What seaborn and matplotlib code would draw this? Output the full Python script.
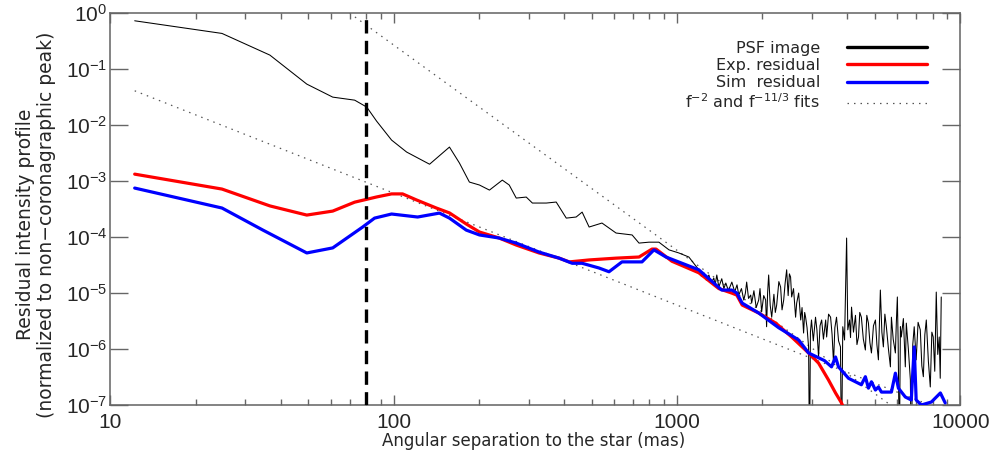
import matplotlib
matplotlib.use('Agg')
import matplotlib.pyplot as plt
from matplotlib.lines import Line2D
from matplotlib import ticker
import seaborn as sns

# ----------- DONNÉES -------------------------------

# PSF image (non coronographique), séparation en mas
psf_sep = [12.2, 24.8, 36.6, 49.4, 61.0, 72.9, 80.4, 87.1, 98.4, 111.2,
           134, 148.8, 157.5, 170.8, 185.2, 201, 218, 242, 256, 271,
           294, 309, 346, 375, 407, 441, 463, 490, 544, 610,
           695, 735, 797, 864, 938, 1016, 1102,
           1195, 1220, 1245, 1270, 1297, 1320, 1350, 1365, 1383, 1395,
           1406, 1440, 1465, 1488, 1520, 1563, 1600, 1630, 1653, 1690,
           1722, 1745, 1763, 1790, 1822, 1836, 1870, 1905, 1944, 1965,
           1991, 2025, 2057, 2073, 2090, 2108, 2135, 2161, 2200, 2225,
           2250, 2290, 2323, 2350, 2382, 2410, 2440, 2470, 2495, 2519,
           2541, 2580, 2624, 2647, 2690, 2735, 2765, 2800, 2825, 2846,
           2880, 2916, 2938, 2960, 2986, 3030, 3085, 3120, 3162, 3200,
           3243, 3290, 3350, 3377, 3430, 3487, 3530, 3571, 3610, 3659,
           3720, 3779, 3810, 3850, 3906, 3972, 4010, 4067, 4100, 4134,
           4200, 4269, 4320, 4375, 4420, 4478, 4550, 4626, 4680, 4742,
           4800, 4860, 4940, 5020, 5080, 5143, 5190, 5225, 5290, 5355,
           5420, 5487, 5580, 5670, 5716, 5800, 5904, 5950, 5999, 6040,
           6096, 6150, 6195, 6300, 6400, 6452, 6560, 6668, 6718, 6800,
           6880, 6990, 7100, 7228, 7320, 7410, 7500, 7590, 7720, 7840,
           7940, 8030, 8130, 8230, 8330, 8430, 8500, 8570]
psf_val = [0.73, 0.434, 0.178, 0.054, 0.0316, 0.0279, 0.021, 0.0118, 0.0054, 0.0033,
           2.0e-3, 3.16e-3, 4.05e-3, 2.1e-3, 9.6e-4, 8.5e-4, 6.9e-4, 1.04e-3, 8.5e-4, 4.97e-4,
           5.18e-4, 4.05e-4, 4.05e-4, 4.22e-4, 2.18e-4, 2.28e-4, 2.79e-4, 1.51e-4, 1.78e-4, 1.18e-4,
           1.09e-4, 7.8e-5, 8.1e-5, 8.1e-5, 5.9e-5, 5.2e-5, 4.4e-5,
           2.6e-5, 2.0e-5, 2.3e-5, 1.7e-5, 2.1e-5, 1.5e-5, 1.85e-5, 1.4e-5, 2.1e-5, 1.6e-5,
           1.28e-5, 1.8e-5, 1.2e-5, 1.51e-5, 1.1e-5, 1.57e-5, 1.05e-5, 1.4e-5, 9.2e-6, 1.2e-5,
           7.5e-6, 1.0e-5, 1.57e-5, 8.0e-6, 9.2e-6, 6.6e-6, 1.1e-5, 5.5e-6, 7.5e-6, 1.2e-5,
           4.6e-6, 9.0e-6, 7.5e-6, 2.5e-6, 1.0e-5, 2.1e-5, 6.0e-6, 3.7e-6, 9.5e-6, 4.5e-6,
           6.1e-6, 1.6e-5, 1.28e-5, 5.0e-6, 7.5e-6, 1.5e-5, 2.6e-5, 9.0e-6, 2.2e-5, 1.93e-5,
           8.5e-6, 1.2e-5, 3.7e-6, 6.6e-6, 1.0e-5, 3.3e-6, 5.5e-6, 1.93e-6, 4.5e-6, 3.7e-6,
           2.4e-6, 1.09e-6, 1e-8, 2.0e-6, 3.3e-6, 1.4e-6, 3.7e-6, 2.2e-6, 7.2e-7, 2.6e-6,
           3.3e-6, 1.5e-6, 3.3e-6, 1.64e-6, 4.2e-6, 3.7e-6, 1.8e-6, 5.6e-7, 2.4e-6, 3.7e-6,
           1.4e-6, 1.09e-6, 1e-8, 2.5e-6, 1.45e-6, 9.6e-5, 2.2e-6, 3.3e-6, 1.6e-6, 5.6e-6,
           2.0e-6, 4.0e-6, 1.2e-6, 1.64e-6, 4.5e-6, 3.7e-6, 1.5e-6, 9.6e-7, 4.0e-6, 2.9e-6,
           1.3e-6, 8.5e-7, 2.6e-6, 3.3e-6, 1.2e-6, 6.4e-7, 3.5e-6, 1.13e-5, 2.0e-6, 1.09e-6,
           4.2e-6, 2.5e-6, 1.0e-6, 4.8e-7, 3.7e-6, 1.5e-6, 8.5e-7, 3.0e-6, 8.5e-6, 1.2e-6,
           1e-8, 2.5e-6, 1.64e-6, 3.5e-6, 4.8e-7, 2.9e-6, 1.0e-6, 2.8e-7, 1e-8, 1.2e-6,
           2.5e-6, 6.4e-7, 3.0e-6, 2.2e-6, 5.0e-7, 3.2e-7, 1.8e-6, 3.3e-6, 6.0e-7, 2.1e-7,
           2.0e-6, 1.64e-6, 4.0e-7, 1.04e-5, 8.0e-7, 1.64e-6, 3.0e-7, 8.5e-6]

# résidu expérimental
exp_sep = [12.2, 24.8, 36.6, 49.4, 61.0, 72.9, 87.1, 98.4, 107.6, 120.5,
           141.6, 157.5, 180.6, 201, 236, 271, 326, 384, 417, 490,
           610, 735, 817, 844, 960, 1195, 1406, 1560, 1627, 1700,
           1944, 2233, 2541, 2916, 3162, 3428, 3630, 3810, 3950]
exp_val = [1.33e-3, 7.2e-4, 3.6e-4, 2.47e-4, 2.91e-4, 4.2e-4, 5.2e-4, 5.9e-4, 5.9e-4, 4.6e-4,
           3.3e-4, 2.7e-4, 1.71e-4, 1.23e-4, 9.6e-5, 7.2e-5, 5.2e-5, 4.2e-5, 3.6e-5, 3.9e-5,
           4.2e-5, 4.4e-5, 6.1e-5, 6.1e-5, 3.7e-5, 2.3e-5, 1.2e-5, 1.0e-5, 9.2e-6, 6.1e-6,
           4.4e-6, 2.9e-6, 1.64e-6, 8.5e-7, 5.6e-7, 2.8e-7, 1.64e-7, 1.09e-7, 7e-8]

# résidu simulé
sim_sep = [12.2, 24.8, 34.6, 49.4, 61.0, 77.8, 85.7, 98.4, 121.6, 145.2,
           157.5, 180.6, 201, 236, 271, 326, 384, 427, 463, 531,
           576, 640, 753, 830, 915, 1195, 1440, 1563, 1627, 1700,
           1944, 2287, 2690, 2916, 3318, 3514, 3630, 3718, 4033, 4478,
           4626, 4742, 4860, 5020, 5143, 5272, 5716, 5904, 6050, 6400,
           6718, 6880, 6990, 7290, 7910, 8510, 8850]
sim_val = [7.5e-4, 3.3e-4, 1.33e-4, 5.2e-5, 6.4e-5, 1.51e-4, 2.18e-4, 2.58e-4, 2.28e-4, 2.68e-4,
           2.18e-4, 1.33e-4, 1.09e-4, 9.6e-5, 7.8e-5, 5.4e-5, 4.2e-5, 3.4e-5, 3.4e-5, 2.8e-5,
           2.4e-5, 3.6e-5, 3.6e-5, 5.9e-5, 4.4e-5, 2.6e-5, 1.13e-5, 1.13e-5, 1.0e-5, 6.6e-6,
           4.4e-6, 2.4e-6, 1.45e-6, 8.5e-7, 6.2e-7, 4.8e-7, 7.2e-7, 4.8e-7, 3.0e-7, 2.3e-7,
           3.2e-7, 2.0e-7, 2.6e-7, 1.85e-7, 2.1e-7, 1.7e-7, 1.7e-7, 3.7e-7, 2.0e-7, 1.39e-7,
           1.23e-7, 1.09e-6, 1.23e-7, 1.0e-7, 1.13e-7, 1.64e-7, 1.09e-7]

# ajustements f^-2 et f^-11/3 (droites en log-log, extrémités)
fit2_sep = [12.2, 10000]
fit2_val = [0.041, 6.1e-8]
fit113_sep = [70, 10000]
fit113_val = [1.0, 1.25e-8]

# séparation du trait vertical
iwa_sep = 80

x_ticks = [10, 100, 1000, 10000]
x_tick_labels = ['10', '100', '1000', '10000']
y_ticks = [1e-7, 1e-6, 1e-5, 1e-4, 1e-3, 1e-2, 1e-1, 1e0]

legend_labels = ['PSF image', 'Exp. residual', 'Sim  residual',
                 'f$^{-2}$ and f$^{-11/3}$ fits']

# ----------- STYLE ------------

sns.set_style('ticks', {'xtick.direction': 'in', 'ytick.direction': 'in'})
plt.rcParams['font.family'] = ['Liberation Sans', 'DejaVu Sans']
plt.rcParams['axes.axisbelow'] = False
plt.rcParams['xtick.top'] = True
plt.rcParams['ytick.right'] = True
frame_col = '#6e6e6e'

fig, ax = plt.subplots(figsize=(9.93, 4.61), dpi=100)
fig.subplots_adjust(left=0.111, right=0.967, bottom=0.1215, top=0.9715)
ax.set_xscale('log')
ax.set_yscale('log')

# ----------- TRACÉS ------------

sns.lineplot(x=fit2_sep, y=fit2_val, ax=ax, color='#555555', linewidth=0.9,
             linestyle=(0, (1.2, 4)), estimator=None, sort=False, zorder=1)
sns.lineplot(x=fit113_sep, y=fit113_val, ax=ax, color='#555555', linewidth=0.9,
             linestyle=(0, (1.2, 4)), estimator=None, sort=False, zorder=1)
sns.lineplot(x=psf_sep, y=psf_val, ax=ax, color='black', linewidth=0.75,
             estimator=None, sort=False, zorder=2)
sns.lineplot(x=exp_sep, y=exp_val, ax=ax, color='#ff0000', linewidth=2.3,
             estimator=None, sort=False, zorder=3)
sns.lineplot(x=sim_sep, y=sim_val, ax=ax, color='#0000ff', linewidth=2.3,
             estimator=None, sort=False, zorder=4)
ax.axvline(iwa_sep, color='black', linewidth=2.4, linestyle=(0, (4, 2.2)), zorder=5)

# ----------- AXES ------------

ax.set_xlim(10, 10000)
ax.set_ylim(1e-7, 1)
ax.set_xticks(x_ticks, labels=x_tick_labels)
ax.xaxis.set_minor_locator(ticker.LogLocator(base=10, subs=range(2, 10)))
ax.set_yticks(y_ticks)
ax.yaxis.set_major_formatter(ticker.LogFormatterSciNotation())
ax.yaxis.set_minor_locator(ticker.NullLocator())

ax.tick_params(which='both', direction='in', top=True, right=True,
               bottom=True, left=True, labelsize=15)
ax.tick_params(which='both', color='#666666', width=1.0)
ax.tick_params(axis='x', which='major', length=7, pad=6)
ax.tick_params(axis='x', which='minor', length=4)
ax.tick_params(axis='y', which='major', length=13, pad=2)
for sp in ax.spines.values():
    sp.set_edgecolor(frame_col)
    sp.set_linewidth(1.2)

ax.set_xlabel('Angular separation to the star (mas)', fontsize=12,
              fontfamily='DejaVu Sans')
ax.xaxis.set_label_coords(0.498, -0.07)
ax.set_ylabel('Residual intensity profile\n(normalized to non\u2212coronagraphic peak)',
              fontsize=13.5, fontfamily='DejaVu Sans', linespacing=1.15)
ax.yaxis.set_label_coords(-0.064, 0.46)

# ----------- LÉGENDE ------------

handles = [Line2D([], [], color='black', linewidth=2.4),
           Line2D([], [], color='#ff0000', linewidth=2.4),
           Line2D([], [], color='#0000ff', linewidth=2.4),
           Line2D([], [], color='#555555', linewidth=0.9, linestyle=(0, (1.2, 4)))]
ax.legend(handles, legend_labels, loc='upper right', bbox_to_anchor=(0.961, 0.93),
          frameon=False, markerfirst=False, borderpad=0, borderaxespad=0,
          handlelength=5.0, handletextpad=1.7, labelspacing=0.15,
          prop={'family': 'DejaVu Sans', 'size': 11.5})

fig.savefig('out.png', dpi=100)
